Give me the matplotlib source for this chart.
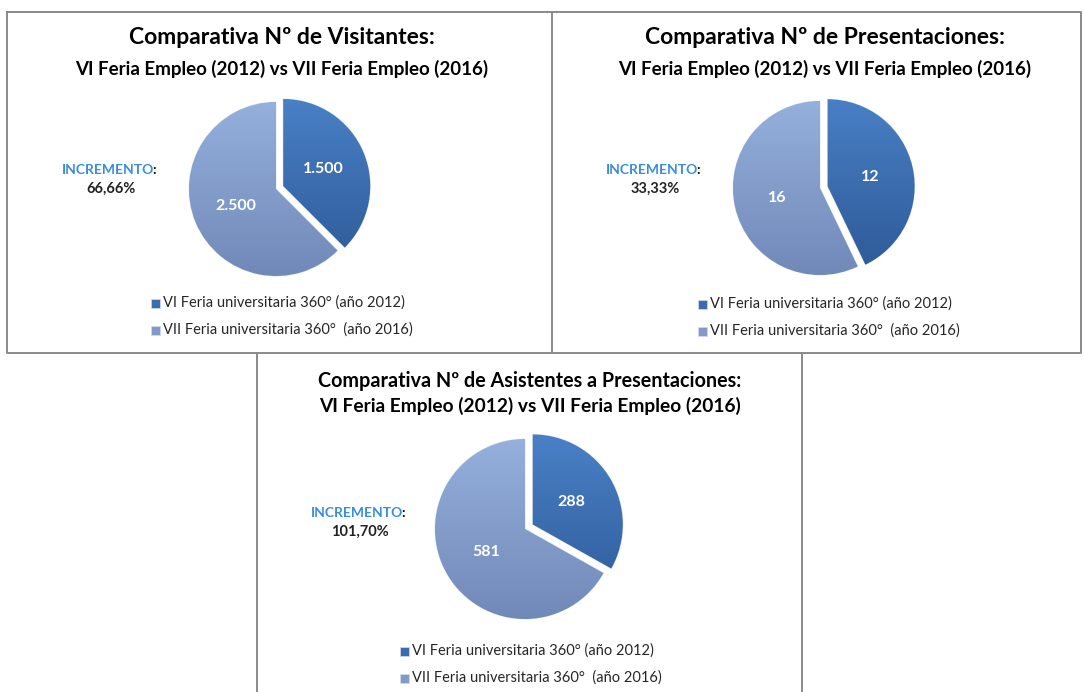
import matplotlib
matplotlib.use("Agg")
import matplotlib.pyplot as plt
import numpy as np
from matplotlib.colors import LinearSegmentedColormap
from matplotlib.patches import Rectangle

plt.rcParams['font.family'] = ['Lato', 'DejaVu Sans']

W, H = 1084, 692

# datos
titulos = ["Comparativa Nº de Visitantes:",
           "Comparativa Nº de Presentaciones:",
           "Comparativa Nº de Asistentes a Presentaciones:"]
subtitulo = "VI Feria Empleo (2012) vs VII Feria Empleo (2016)"
visitantes = [1500, 2500]
presentaciones = [12, 16]
asistentes = [288, 581]
incrementos = ["66,66%", "33,33%", "101,70%"]
leyenda = ["VI Feria universitaria 360° (año 2012)",
           "VII Feria universitaria 360°  (año 2016)"]

colores = ["#3a6cb0", "#8299c9"]
cm_oscuro = LinearSegmentedColormap.from_list("oscuro", ["#4b83c9", "#2b5592"])
cm_claro = LinearSegmentedColormap.from_list("claro", ["#99b4e1", "#6d85b4"])

fig = plt.figure(figsize=(W / 100, H / 100), dpi=100)
bg = fig.add_axes([0, 0, 1, 1])
bg.set_xlim(0, W)
bg.set_ylim(H, 0)
bg.axis("off")

# marcos
marco = dict(color="#8a8a8a", lw=1.4)
bg.plot([7, 1081, 1081, 7, 7], [12, 12, 353, 353, 12], **marco)
bg.plot([552, 552], [12, 353], **marco)
bg.plot([257, 257], [353, 692], **marco)
bg.plot([802, 802], [353, 692], **marco)

# posiciones de cada panel (pixeles)
paneles = [
    dict(vals=visitantes, titulo=titulos[0], ts=16.5, ss=13.5, tx=282, ty=38, sy=69,
         cx=276, cy=189, r=87, ex=0.09, ix=111, iy=170, lx=151, ly=303),
    dict(vals=presentaciones, titulo=titulos[1], ts=16.5, ss=13.5, tx=825, ty=38, sy=69,
         cx=820, cy=188, r=87, ex=0.09, ix=655, iy=170, lx=698, ly=304),
    dict(vals=asistentes, titulo=titulos[2], ts=14.2, ss=13.8, tx=530, ty=381, sy=406,
         cx=525, cy=529, r=90, ex=0.10, ix=360, iy=513, lx=400, ly=651),
]

for p, inc in zip(paneles, incrementos):
    bg.text(p["tx"], p["ty"], p["titulo"], fontsize=p["ts"], fontweight="bold",
            ha="center", va="center", color="black")
    bg.text(p["tx"], p["sy"], subtitulo, fontsize=p["ss"], fontweight="bold",
            ha="center", va="center", color="black")

    t = bg.text(p["ix"] - 3, p["iy"], "INCREMENTO", fontsize=10, fontweight="bold",
                ha="center", va="center", color="#3a8ddb")
    bg.annotate(":", xy=(1, 0), xycoords=t, xytext=(-1.5, 0), textcoords="offset points",
                ha="left", va="bottom", fontsize=10, fontweight="bold", color="black")
    bg.text(p["ix"], p["iy"] + 19, inc, fontsize=10.5, fontweight="bold",
            ha="center", va="center", color="#222222")

    # tarta
    half = p["r"] * 1.2
    ax = fig.add_axes([(p["cx"] - half) / W, 1 - (p["cy"] + half) / H,
                       2 * half / W, 2 * half / H])
    total = sum(p["vals"])
    wedges, _, _ = ax.pie(
        p["vals"], startangle=90, counterclock=False, explode=[p["ex"], 0],
        colors=colores, pctdistance=0.5,
        autopct=lambda pc, total=total: f"{round(pc * total / 100):,}".replace(",", "."),
        wedgeprops=dict(edgecolor="#e6ecf5", linewidth=0.8),
        textprops=dict(color="white", fontsize=11.5, fontweight="bold"))
    grad = np.linspace(0, 1, 256).reshape(-1, 1)
    for w, cm in zip(wedges, [cm_oscuro, cm_claro]):
        im = ax.imshow(grad, cmap=cm, extent=[-1.2, 1.2, -1.2, 1.2],
                       origin="upper", aspect="auto", zorder=1.5)
        im.set_clip_path(w)
    ax.set_xlim(-1.2, 1.2)
    ax.set_ylim(-1.2, 1.2)
    ax.axis("off")

    # leyenda
    for k, lab in enumerate(leyenda):
        y = p["ly"] + k * 27
        bg.add_patch(Rectangle((p["lx"], y - 4.5), 9, 9, facecolor=colores[k],
                               edgecolor="#d5ddea", lw=0.5))
        bg.text(p["lx"] + 12, y, lab, fontsize=10.5, ha="left", va="center",
                color="#262626")

fig.savefig("out.png", dpi=100)
